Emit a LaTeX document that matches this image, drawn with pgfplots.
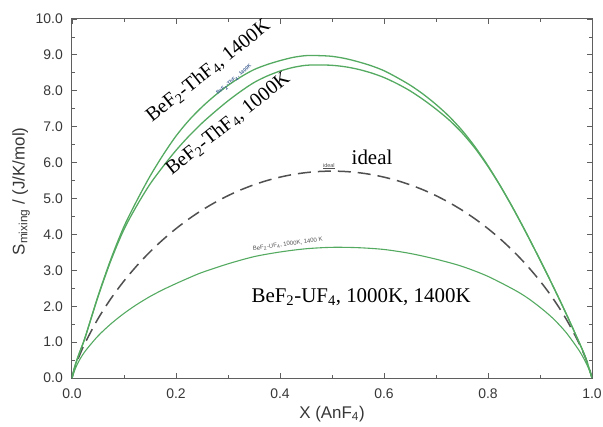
\documentclass[border=0pt]{standalone}
\usepackage{pgfplots}
\pgfplotsset{compat=1.18}
\usepackage{fontspec}
\setmainfont{Liberation Serif}
\setsansfont{Liberation Sans}
\definecolor{mygreen}{RGB}{84,170,96}
\definecolor{axgray}{RGB}{95,95,95}
\definecolor{ticklab}{RGB}{55,55,55}
\definecolor{dashgray}{RGB}{80,80,80}
\definecolor{tinyblue}{RGB}{70,100,150}

\begin{document}
\begin{tikzpicture}
\begin{axis}[
  scale only axis, width=520bp, height=359bp,
  xmin=0, xmax=1, ymin=0, ymax=10,
  xtick={0,0.2,0.4,0.6,0.8,1.0},
  xticklabels={0.0,0.2,0.4,0.6,0.8,1.0},
  ytick={0,1,2,3,4,5,6,7,8,9,10},
  yticklabels={0.0,1.0,2.0,3.0,4.0,5.0,6.0,7.0,8.0,9.0,10.0},
  minor x tick num=1, minor y tick num=1,
  tick align=inside, major tick length=5bp, minor tick length=3bp,
  axis line style={axgray, line width=1bp},
  every tick/.style={axgray, line width=0.8bp},
  tick label style={font=\fontsize{14}{14}\sffamily, text=ticklab},
  yticklabel style={inner xsep=0pt, xshift=-9bp},
  xticklabel style={inner ysep=0pt, yshift=-11bp},
  xlabel={X (AnF\textsubscript{4})},
  ylabel={S\textsubscript{mixing} / (J/K/mol)},
  label style={font=\fontsize{17}{17}\sffamily, text=ticklab},
  xlabel style={at={(axis description cs:0.5,-0.100)}, anchor=center},
  ylabel style={at={(axis description cs:-0.098,0.52)}, anchor=center},
  clip=true,
]
% ideal
\addplot[dashgray, line width=1.5bp, dash pattern=on 13bp off 7bp, smooth] coordinates {
(0,0) (0.005,0.262) (0.0125,0.559) (0.025,0.972) (0.05,1.650) (0.075,2.215) (0.1,2.703)
(0.125,3.132) (0.15,3.514) (0.175,3.855) (0.2,4.160) (0.225,4.433) (0.25,4.676)
(0.275,4.890) (0.3,5.079) (0.325,5.243) (0.35,5.383) (0.375,5.500) (0.4,5.595)
(0.425,5.669) (0.45,5.721) (0.475,5.752) (0.5,5.763) (0.525,5.752) (0.55,5.721)
(0.575,5.669) (0.6,5.595) (0.625,5.500) (0.65,5.383) (0.675,5.243) (0.7,5.079)
(0.725,4.890) (0.75,4.676) (0.775,4.433) (0.8,4.160) (0.825,3.855) (0.85,3.514)
(0.875,3.132) (0.9,2.703) (0.925,2.215) (0.95,1.650) (0.975,0.972) (0.9875,0.559)
(0.995,0.262) (1,0)
};
% ThF4 1400K
\addplot[mygreen, line width=1.3bp, smooth] coordinates {
(0,0) (0.005,0.30) (0.0125,0.63) (0.025,1.12) (0.05,2.28) (0.075,3.32) (0.1,4.22)
(0.125,4.95) (0.15,5.62) (0.175,6.21) (0.2,6.74) (0.225,7.18) (0.25,7.55)
(0.275,7.87) (0.3,8.15) (0.325,8.39) (0.35,8.59) (0.375,8.73) (0.4,8.84)
(0.425,8.93) (0.45,8.98) (0.475,8.98) (0.5,8.96) (0.525,8.90) (0.55,8.81)
(0.575,8.70) (0.6,8.56) (0.625,8.37) (0.65,8.16) (0.675,7.91) (0.7,7.62)
(0.725,7.29) (0.75,6.90) (0.775,6.44) (0.8,5.91) (0.825,5.32) (0.85,4.68)
(0.875,4.00) (0.9,3.29) (0.925,2.56) (0.95,1.80) (0.975,1.00) (0.9875,0.57) (1,0)
};
% ThF4 1000K
\addplot[mygreen, line width=1.3bp, smooth] coordinates {
(0,0) (0.005,0.30) (0.0125,0.63) (0.025,1.12) (0.05,2.26) (0.075,3.28) (0.1,4.14)
(0.125,4.81) (0.15,5.40) (0.175,5.89) (0.2,6.34) (0.225,6.74) (0.25,7.10)
(0.275,7.42) (0.3,7.72) (0.325,7.99) (0.35,8.23) (0.375,8.41) (0.4,8.55)
(0.425,8.65) (0.45,8.71) (0.475,8.72) (0.5,8.71) (0.525,8.67) (0.55,8.60)
(0.575,8.50) (0.6,8.37) (0.625,8.20) (0.65,8.00) (0.675,7.76) (0.7,7.49)
(0.725,7.19) (0.75,6.83) (0.775,6.40) (0.8,5.89) (0.825,5.315) (0.85,4.68)
(0.875,4.00) (0.9,3.29) (0.925,2.56) (0.95,1.80) (0.975,1.00) (0.9875,0.57) (1,0)
};
% UF4
\addplot[mygreen, line width=1.1bp, smooth] coordinates {
(0,0) (0.005,0.21) (0.0125,0.45) (0.025,0.74) (0.05,1.17) (0.075,1.51) (0.1,1.80)
(0.125,2.05) (0.15,2.27) (0.175,2.46) (0.2,2.63) (0.225,2.79) (0.25,2.94) (0.3,3.18) (0.35,3.38)
(0.4,3.51) (0.45,3.60) (0.5,3.64) (0.55,3.63) (0.6,3.58) (0.65,3.47) (0.7,3.31)
(0.75,3.11) (0.8,2.83) (0.85,2.46) (0.875,2.24) (0.9,1.97) (0.925,1.66) (0.95,1.27)
(0.975,0.77) (0.9875,0.45) (0.995,0.21) (1,0)
};
% annotations
\node[rotate=38.5, font=\fontsize{20}{20}\selectfont] at (axis cs:0.262,8.55) {BeF\textsubscript{2}-ThF\textsubscript{4}, 1400K};
\node[rotate=38.5, font=\fontsize{20}{20}\selectfont] at (axis cs:0.300,7.08) {BeF\textsubscript{2}-ThF\textsubscript{4}, 1000K};
\node[rotate=40, font=\fontsize{5}{5}\sffamily\bfseries, text=tinyblue] at (axis cs:0.312,8.30) {BeF\textsubscript{2}-ThF\textsubscript{4}, 1400K};
\node[font=\fontsize{21}{21}\selectfont] at (axis cs:0.577,6.16) {ideal};
\node[font=\fontsize{5.5}{5.5}\sffamily, text=dashgray] at (axis cs:0.494,5.90) {\underline{ideal}};
\node[rotate=8, font=\fontsize{6}{6}\sffamily, text=dashgray] at (axis cs:0.415,3.72) {BeF\textsubscript{2}-UF\textsubscript{4}, 1000K, 1400 K};
\node[font=\fontsize{21}{21}\selectfont] at (axis cs:0.556,2.26) {BeF\textsubscript{2}-UF\textsubscript{4}, 1000K, 1400K};
\end{axis}
\pgfresetboundingbox
\path (current axis.south west) ++(-72bp,-49bp) rectangle ++(603bp,427bp);
\end{tikzpicture}
\end{document}
